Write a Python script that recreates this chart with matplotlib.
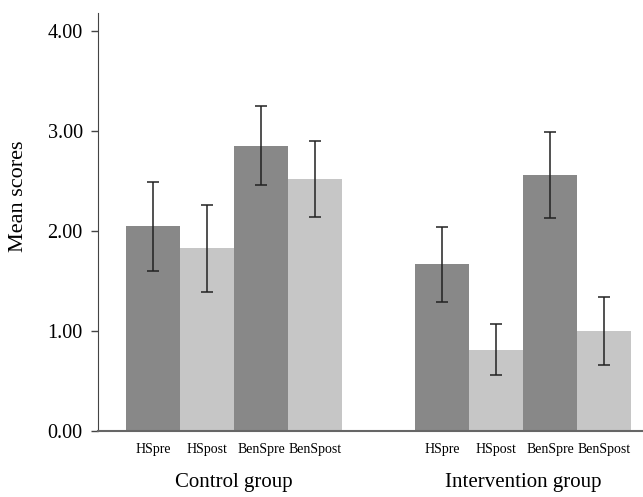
import numpy as np
import matplotlib.pyplot as plt

bar_labels = ["HSpre", "HSpost", "BenSpre", "BenSpost"]
groups = ["Control group", "Intervention group"]
control_means = [2.05, 1.83, 2.85, 2.52]
control_lo = [1.60, 1.39, 2.46, 2.14]
control_hi = [2.49, 2.26, 3.25, 2.90]
interv_means = [1.67, 0.81, 2.56, 1.00]
interv_lo = [1.29, 0.56, 2.13, 0.66]
interv_hi = [2.04, 1.07, 2.99, 1.34]
yticks = [0.0, 1.0, 2.0, 3.0, 4.0]

colors = ["#888888", "#c6c6c6", "#888888", "#c6c6c6"]

plt.rcParams['font.family'] = ['Liberation Serif', 'DejaVu Serif']

fig = plt.figure(figsize=(6.43, 4.97), dpi=100)
ax = fig.add_axes([0.1524, 0.1328, 0.846, 0.842])

offsets = [0.0, 5.35]
data = [(control_means, control_lo, control_hi), (interv_means, interv_lo, interv_hi)]
for off, (m, lo, hi), name in zip(offsets, data, groups):
    x = off + np.arange(len(m))
    m = np.array(m)
    yerr = [m - np.array(lo), np.array(hi) - m]
    ax.bar(x, m, width=1.0, color=colors, edgecolor="none", zorder=2)
    ax.errorbar(x, m, yerr=yerr, fmt="none", ecolor="#222222", elinewidth=1.1,
                capsize=4.5, capthick=1.1, zorder=3)
    for xi, lab in zip(x, bar_labels):
        ax.text(xi, -0.12, lab, ha="center", va="top", fontsize=10)
    ax.text(x.mean(), -0.42, name, ha="center", va="top", fontsize=15)

ax.set_xlim(-1.02, 9.05)
ax.set_ylim(0, 4.18)
ax.set_yticks(yticks)
ax.set_yticklabels([f"{v:.2f}" for v in yticks], fontsize=14.5)
ax.set_xticks([])
ax.set_ylabel("Mean scores", fontsize=16)
ax.yaxis.set_label_coords(-0.128, 0.56)
ax.tick_params(axis="y", direction="out", length=5, width=1, color="#444444", pad=6)
for s in ["top", "right"]:
    ax.spines[s].set_visible(False)
ax.spines["left"].set_color("#444444")
ax.spines["bottom"].set_color("#666666")
ax.spines["bottom"].set_linewidth(1.5)

fig.savefig("out.png", dpi=100)
